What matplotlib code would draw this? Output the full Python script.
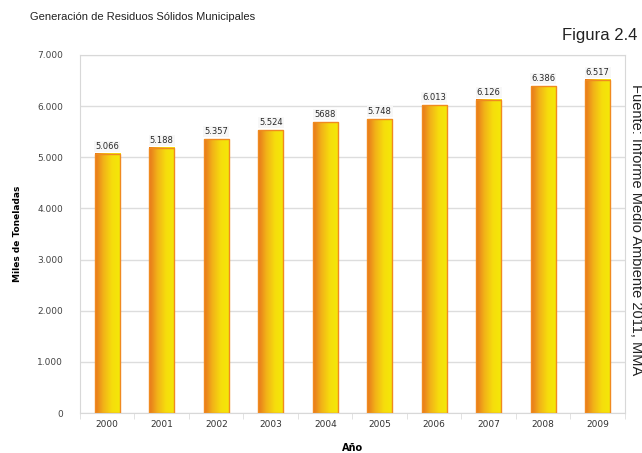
import numpy as np
import matplotlib.pyplot as plt
from matplotlib.colors import LinearSegmentedColormap

years = ["2000", "2001", "2002", "2003", "2004", "2005", "2006", "2007", "2008", "2009"]
values = [5066, 5188, 5357, 5524, 5688, 5748, 6013, 6126, 6386, 6517]
value_labels = ["5.066", "5.188", "5.357", "5.524", "5688", "5.748", "6.013", "6.126", "6.386", "6.517"]
yticks = [0, 1000, 2000, 3000, 4000, 5000, 6000, 7000]
ytick_labels = ["0", "1.000", "2.000", "3.000", "4.000", "5.000", "6.000", "7.000"]

fig = plt.figure(figsize=(6.42, 4.53), dpi=100)
ax = fig.add_axes([0.1246, 0.0883, 0.8489, 0.7903])

# orange -> yellow gradient for the bars
cmap = LinearSegmentedColormap.from_list("oy", ["#E8761C", "#F2B418", "#F6DE0C", "#F4E808"])
grad = np.linspace(0, 1, 64).reshape(1, -1)
width = 0.46
x = np.arange(len(years))

for xi, v, lab in zip(x, values, value_labels):
    ax.imshow(grad, cmap=cmap, aspect="auto", extent=(xi - width / 2, xi + width / 2, 0, v),
              zorder=2, interpolation="bicubic")
    ax.bar(xi, v, width=width, fill=False, edgecolor="#F08A20", linewidth=1.0, zorder=3)
    ax.text(xi, v + 60, lab, ha="center", va="bottom", fontsize=6, color="#2a2a2a",
            bbox=dict(facecolor="#F7F7F7", edgecolor="none", pad=0.8), zorder=4)

ax.set_xlim(-0.5, len(years) - 0.5)
ax.set_ylim(0, 7000)
ax.set_yticks(yticks)
ax.set_yticklabels(ytick_labels, fontsize=6.5, color="#444444")
ax.set_xticks(x)
ax.set_xticklabels(years, fontsize=6.5, color="#333333")
ax.tick_params(axis="y", length=0, pad=12)
ax.tick_params(axis="x", length=0, pad=5)

# small separators between categories
ax.set_xticks(np.arange(-0.5, len(years), 1), minor=True)
ax.tick_params(axis="x", which="minor", length=4, color="#DDDDDD")

ax.grid(axis="y", color="#DDDDDD", linewidth=1.0, zorder=0)
ax.set_axisbelow(True)
for side in ["top", "right", "left", "bottom"]:
    ax.spines[side].set_color("#D8D8D8")

ax.set_ylabel("Miles de Toneladas", fontsize=6.5, fontweight="bold", labelpad=11)
ax.set_xlabel("Año", fontsize=7, fontweight="bold", labelpad=10)

fig.text(0.047, 0.963, "Generación de Residuos Sólidos Municipales", fontsize=8,
         family="Liberation Sans", va="center", color="#222222")
fig.text(0.993, 0.922, "Figura 2.4", fontsize=12, family="Liberation Sans",
         ha="right", va="center", color="#222222")
fig.text(0.979, 0.815, "Fuente: Informe Medio Ambiente 2011, MMA", fontsize=10.5,
         family="Liberation Sans", rotation=-90, ha="left", va="top", color="#222222")

fig.savefig("out.png", dpi=100)
